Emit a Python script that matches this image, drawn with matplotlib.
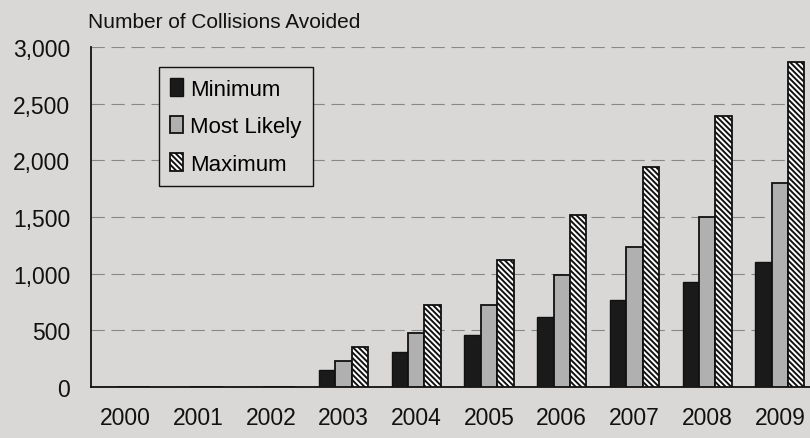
import matplotlib
matplotlib.use('Agg')
import matplotlib.pyplot as plt
import numpy as np

# Data
years = ['2000', '2001', '2002', '2003', '2004', '2005', '2006', '2007', '2008', '2009']
minimum = [0, 0, 0, 150, 305, 462, 616, 770, 928, 1102]
most_likely = [0, 0, 0, 232, 478, 720, 985, 1240, 1502, 1800]
maximum = [0, 0, 0, 352, 720, 1118, 1522, 1938, 2393, 2865]
y_ticks = [0, 500, 1000, 1500, 2000, 2500, 3000]

plt.rcParams['font.family'] = ['Liberation Sans', 'DejaVu Sans']
plt.rcParams['hatch.linewidth'] = 1.4

bg = '#d9d8d6'
fig = plt.figure(figsize=(8.1, 4.39), dpi=100, facecolor=bg)
ax = fig.add_axes([0.1123, 0.1162, 0.8877, 0.774])
ax.set_facecolor(bg)

x = np.arange(len(years))
w = 0.225
ax.bar(x - w, minimum, w, color='#1a1a1a', edgecolor='#111111', linewidth=1.0,
       label='Minimum', zorder=3)
ax.bar(x, most_likely, w, color='#b0b0b0', edgecolor='#111111', linewidth=1.3,
       label='Most Likely', zorder=3)
ax.bar(x + w, maximum, w, color='white', edgecolor='#111111', linewidth=1.3,
       hatch='\\\\\\\\\\\\', label='Maximum', zorder=3)

ax.set_xlim(-0.475, 9.415)
ax.set_ylim(0, 3000)
ax.set_yticks(y_ticks)
ax.set_yticklabels([f'{v:,}' for v in y_ticks])
ax.set_xticks(x)
ax.set_xticklabels(years)
ax.tick_params(axis='y', length=0, pad=15, labelsize=16.5, colors='#111111')
ax.tick_params(axis='x', length=0, pad=14, labelsize=16.5, colors='#111111')

ax.yaxis.grid(True, color='#666666', linestyle=(0, (12, 6)), linewidth=0.8, alpha=0.7)
ax.set_axisbelow(True)

for side in ['top', 'right']:
    ax.spines[side].set_visible(False)
ax.spines['left'].set_color('#111111')
ax.spines['bottom'].set_color('#111111')
ax.spines['left'].set_linewidth(1.3)
ax.spines['bottom'].set_linewidth(1.3)

leg = ax.legend(loc='upper left', bbox_to_anchor=(159 / 810, 1 - 68 / 439),
                bbox_transform=fig.transFigure, fontsize=16, frameon=True,
                fancybox=False, edgecolor='#111111', facecolor=bg, framealpha=1,
                handlelength=0.6, handleheight=0.85, handletextpad=0.3,
                labelspacing=0.72, borderpad=0.5, borderaxespad=0)
leg.get_frame().set_linewidth(1.0)

fig.text(88 / 810, 1 - 22 / 439, 'Number of Collisions Avoided', fontsize=15,
         va='center', ha='left', color='#111111')

fig.savefig('out.png', dpi=100, facecolor=bg)
